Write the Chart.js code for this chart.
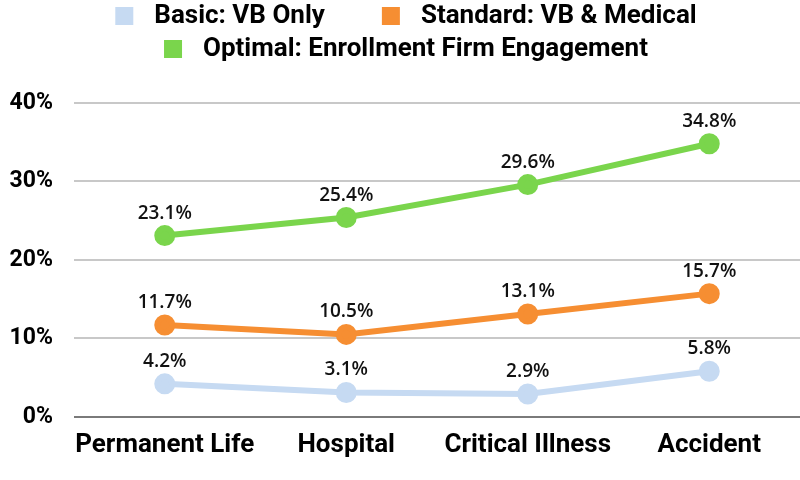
<!DOCTYPE html>
<html>
<head>
<meta charset="utf-8">
<script src="https://cdn.jsdelivr.net/npm/chart.js@4"></script>
<style>
html,body{margin:0;padding:0;background:#fff;}
#wrap{width:800px;height:480px;position:relative;}
</style>
</head>
<body>
<div id="wrap"><canvas id="c" width="800" height="480"></canvas></div>
<script>
const categories = ["Permanent Life", "Hospital", "Critical Illness", "Accident"];
const seriesNames = ["Basic: VB Only", "Standard: VB & Medical", "Optimal: Enrollment Firm Engagement"];
const basicValues = [4.2, 3.1, 2.9, 5.8];
const standardValues = [11.7, 10.5, 13.1, 15.7];
const optimalValues = [23.1, 25.4, 29.6, 34.8];
const yTicks = [0, 10, 20, 30, 40];

const colors = ["#c6daf2", "#f68e32", "#7ad54c"];

const legendPlugin = {
  id: 'customLegend',
  afterDraw(chart) {
    const ctx = chart.ctx;
    const font = 'bold 26px Roboto';
    const box = 18, boxGap = 21, itemGap = 57, rowH = 33;
    ctx.save();
    ctx.font = font;
    const items = chart.data.datasets.map((d, i) => ({
      text: d.label, color: d.borderColor,
      w: box + boxGap + ctx.measureText(d.label).width
    }));
    const rows = [[]];
    let cur = 0;
    items.forEach(it => {
      const r = rows[rows.length - 1];
      const need = r.length ? cur + itemGap + it.w : it.w;
      if (r.length && need > chart.width - 40) { rows.push([it]); cur = it.w; }
      else { r.push(it); cur = need; }
    });
    rows.forEach((r, ri) => {
      const total = r.reduce((s, it) => s + it.w, 0) + itemGap * (r.length - 1);
      let x = chart.width / 2 + 6 - total / 2;
      const base = 23 + ri * rowH;
      r.forEach(it => {
        ctx.fillStyle = it.color;
        ctx.fillRect(x, base - 16, box, box);
        ctx.fillStyle = '#000';
        ctx.textBaseline = 'alphabetic';
        ctx.textAlign = 'left';
        ctx.fillText(it.text, x + box + boxGap, base);
        x += it.w + itemGap;
      });
    });
    ctx.restore();
  }
};

const valueLabelPlugin = {
  id: 'valueLabels',
  afterDatasetsDraw(chart) {
    const ctx = chart.ctx;
    ctx.save();
    ctx.font = '600 19px "Open Sans"';
    ctx.fillStyle = '#111';
    ctx.textAlign = 'center';
    ctx.textBaseline = 'alphabetic';
    chart.data.datasets.forEach((ds, di) => {
      const meta = chart.getDatasetMeta(di);
      meta.data.forEach((pt, i) => {
        ctx.fillText(ds.data[i].toFixed(1) + '%', pt.x, pt.y - 17);
      });
    });
    ctx.restore();
  }
};

const seriesValues = [basicValues, standardValues, optimalValues];

new Chart(document.getElementById('c'), {
  type: 'line',
  data: {
    labels: categories,
    datasets: seriesNames.map((name, i) => ({
      label: name,
      data: seriesValues[i],
      borderColor: colors[i],
      backgroundColor: colors[i],
      pointBackgroundColor: colors[i],
      pointBorderColor: colors[i],
      borderWidth: 6,
      pointRadius: 7.5,
      pointHoverRadius: 7.5,
      tension: 0,
      fill: false,
      clip: false
    }))
  },
  options: {
    responsive: false,
    animation: false,
    devicePixelRatio: 1,
    layout: { autoPadding: false, padding: { top: 103, bottom: 6, left: 0, right: 0 } },
    plugins: {
      legend: { display: false },
      tooltip: { enabled: false }
    },
    scales: {
      x: {
        offset: true,
        grid: { display: false, drawTicks: false },
        border: { display: false },
        ticks: {
          color: '#000',
          padding: 13,
          maxRotation: 0,
          minRotation: 0,
          autoSkip: false,
          font: { family: 'Roboto', weight: 'bold', size: 26 }
        }
      },
      y: {
        min: 0,
        max: 40,
        afterFit(scale) { scale.width = 74; },
        afterBuildTicks(scale) { scale.ticks = yTicks.map(v => ({ value: v })); },
        grid: {
          drawTicks: false,
          color: ctx => ctx.tick && ctx.tick.value === 0 ? '#7a7a7a' : '#c8c8c8',
          lineWidth: 2
        },
        border: { display: false },
        ticks: {
          color: '#000',
          padding: 21,
          font: { family: 'Roboto', weight: 'bold', size: 23 },
          callback: v => v + '%'
        }
      }
    }
  },
  plugins: [legendPlugin, valueLabelPlugin]
});
</script>
</body>
</html>
